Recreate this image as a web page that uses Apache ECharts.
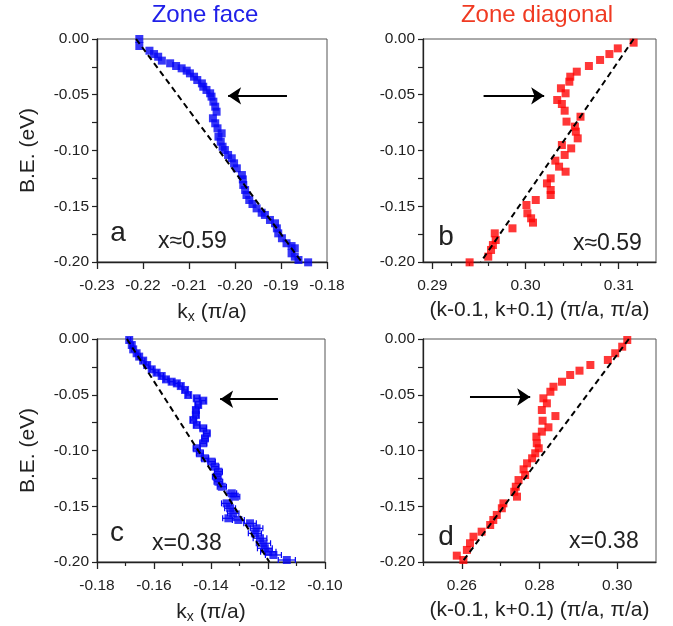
<!DOCTYPE html>
<html><head><meta charset="utf-8">
<script src="https://cdn.jsdelivr.net/npm/echarts@6/dist/echarts.min.js"></script>
<style>html,body{margin:0;padding:0;background:#fff}#c{width:673px;height:626px}</style>
</head><body><div id="c"></div>
<script>
// ---------- data ----------
const aX = [-0.2208,-0.2208,-0.2186,-0.2176,-0.2167,-0.2159,-0.2141,-0.2128,-0.2116,-0.2105,-0.2098,-0.2089,-0.2082,-0.2072,-0.2069,-0.2062,-0.2054,-0.2051,-0.2047,-0.2043,-0.2040,-0.2048,-0.2043,-0.2038,-0.2029,-0.2036,-0.2031,-0.2027,-0.2022,-0.2015,-0.2007,-0.2002,-0.1996,-0.1985,-0.1983,-0.1982,-0.1978,-0.1975,-0.1969,-0.1962,-0.1953,-0.1942,-0.1935,-0.1924,-0.1913,-0.1909,-0.1906,-0.1898,-0.1888,-0.1877,-0.1870,-0.1877,-0.1870,-0.1862,-0.1841];
const aY = [0.0000,-0.0063,-0.0105,-0.0135,-0.0159,-0.0194,-0.0218,-0.0242,-0.0263,-0.0284,-0.0308,-0.0338,-0.0368,-0.0398,-0.0428,-0.0457,-0.0487,-0.0517,-0.0562,-0.0607,-0.0652,-0.0711,-0.0756,-0.0801,-0.0846,-0.0876,-0.0921,-0.0966,-0.0996,-0.1040,-0.1070,-0.1115,-0.1160,-0.1220,-0.1259,-0.1309,-0.1354,-0.1399,-0.1444,-0.1480,-0.1519,-0.1558,-0.1578,-0.1623,-0.1653,-0.1698,-0.1743,-0.1787,-0.1832,-0.1857,-0.1877,-0.1922,-0.1952,-0.1982,-0.2003];

const bX = [0.3116,0.3099,0.3090,0.3080,0.3068,0.3055,0.3048,0.3047,0.3038,0.3043,0.3034,0.3039,0.3042,0.3059,0.3044,0.3053,0.3054,0.3056,0.3049,0.3039,0.3042,0.3032,0.3036,0.3043,0.3027,0.3023,0.3027,0.3027,0.3011,0.3001,0.3002,0.3006,0.3008,0.2986,0.2967,0.2968,0.2965,0.2963,0.2960,0.2940];
const bY = [-0.0033,-0.0084,-0.0135,-0.0188,-0.0242,-0.0293,-0.0338,-0.0383,-0.0442,-0.0487,-0.0547,-0.0583,-0.0643,-0.0697,-0.0741,-0.0786,-0.0831,-0.0891,-0.0981,-0.0951,-0.1040,-0.1091,-0.1145,-0.1190,-0.1250,-0.1295,-0.1354,-0.1399,-0.1444,-0.1489,-0.1563,-0.1608,-0.1647,-0.1698,-0.1743,-0.1803,-0.1848,-0.1892,-0.1952,-0.2003];

const cX = [-0.1687,-0.1678,-0.1673,-0.1661,-0.1652,-0.1638,-0.1624,-0.1608,-0.1591,-0.1573,-0.1558,-0.1538,-0.1520,-0.1506,-0.1491,-0.1480,-0.1450,-0.1427,-0.1445,-0.1453,-0.1453,-0.1462,-0.1450,-0.1427,-0.1415,-0.1421,-0.1427,-0.1450,-0.1439,-0.1421,-0.1398,-0.1386,-0.1374,-0.1380,-0.1374,-0.1362,-0.1327,-0.1316,-0.1345,-0.1333,-0.1322,-0.1339,-0.1304,-0.1263,-0.1240,-0.1246,-0.1228,-0.1216,-0.1211,-0.1199,-0.1181,-0.1134];
const cY = [-0.0009,-0.0054,-0.0093,-0.0128,-0.0158,-0.0194,-0.0233,-0.0272,-0.0302,-0.0332,-0.0362,-0.0383,-0.0398,-0.0422,-0.0457,-0.0502,-0.0532,-0.0553,-0.0592,-0.0637,-0.0682,-0.0726,-0.0771,-0.0801,-0.0846,-0.0891,-0.0935,-0.0980,-0.1025,-0.1070,-0.1100,-0.1145,-0.1190,-0.1235,-0.1280,-0.1325,-0.1384,-0.1414,-0.1474,-0.1518,-0.1563,-0.1608,-0.1623,-0.1653,-0.1698,-0.1743,-0.1787,-0.1832,-0.1877,-0.1908,-0.1937,-0.1982];
const cErr = [0.0005,0.0005,0.0005,0.0005,0.0005,0.0006,0.0006,0.0006,0.0006,0.0006,0.0007,0.0007,0.0007,0.0007,0.0008,0.0008,0.0009,0.0009,0.0009,0.0010,0.0010,0.0010,0.0010,0.0011,0.0011,0.0011,0.0012,0.0012,0.0012,0.0013,0.0013,0.0014,0.0014,0.0015,0.0015,0.0016,0.0017,0.0017,0.0018,0.0019,0.0020,0.0020,0.0021,0.0022,0.0022,0.0023,0.0024,0.0025,0.0026,0.0027,0.0028,0.0030];

const dX = [0.3026,0.3013,0.2995,0.2976,0.2931,0.2903,0.2879,0.2858,0.2836,0.2828,0.2810,0.2819,0.2806,0.2841,0.2808,0.2823,0.2806,0.2792,0.2793,0.2798,0.2789,0.2781,0.2768,0.2759,0.2763,0.2746,0.2739,0.2735,0.2742,0.2707,0.2703,0.2690,0.2681,0.2673,0.2651,0.2630,0.2621,0.2613,0.2587,0.2604];
const dY = [-0.0009,-0.0069,-0.0128,-0.0188,-0.0233,-0.0284,-0.0323,-0.0383,-0.0428,-0.0473,-0.0532,-0.0577,-0.0637,-0.0691,-0.0733,-0.0792,-0.0831,-0.0876,-0.0935,-0.0980,-0.1025,-0.1070,-0.1115,-0.1169,-0.1220,-0.1265,-0.1325,-0.1370,-0.1414,-0.1474,-0.1518,-0.1578,-0.1623,-0.1668,-0.1728,-0.1773,-0.1832,-0.1892,-0.1943,-0.1982];

// dashed guide lines (x at B.E.=0 and B.E.=-0.20)
const aLineX = [-0.2215, -0.1855]; const aLineY = [0, -0.20];
const bLineX = [0.3116, 0.2952];  const bLineY = [0, -0.20];
const cLineX = [-0.1695, -0.1195]; const cLineY = [0, -0.20];
const dLineX = [0.3030, 0.2601];  const dLineY = [0, -0.20];

// arrows (start x, end x, y)
const aArrow = [-0.1887, -0.2015, -0.051];
const bArrow = [0.2955, 0.3020, -0.051];
const cArrow = [-0.1165, -0.1368, -0.054];
const dArrow = [0.2621, 0.2776, -0.052];

// ticks
const yLabels = [0, -0.05, -0.10, -0.15, -0.20];
const yTicks = [0, -0.025, -0.05, -0.075, -0.10, -0.125, -0.15, -0.175, -0.20];
const aXLabels = [-0.23, -0.22, -0.21, -0.20, -0.19, -0.18];
const aXMinor = [];
const bXLabels = [0.29, 0.30, 0.31];
const bXMinor = [0.292, 0.294, 0.296, 0.298, 0.302, 0.304, 0.306, 0.308, 0.312];
const cXLabels = [-0.18, -0.16, -0.14, -0.12, -0.10];
const cXMinor = [-0.17, -0.15, -0.13, -0.11];
const dXLabels = [0.26, 0.28, 0.30];
const dXMinor = [0.25, 0.27, 0.29];

// ---------- chart ----------
const FONT = '"Liberation Sans", Arial, sans-serif';
const BLUE = '#0505f5', RED = '#ff0505', INK = '#222';
const chart = echarts.init(document.getElementById('c'), null, {renderer: 'canvas'});

const panels = [
  {left: 97,  top: 39,  width: 230, xmin: -0.23, xmax: -0.18, labels: aXLabels, minor: aXMinor, X: aX, Y: aY, color: BLUE, lx: aLineX, ly: aLineY, arrow: aArrow, xname: 'k', yname: true},
  {left: 423, top: 39,  width: 233, xmin: 0.289, xmax: 0.314, labels: bXLabels, minor: bXMinor, X: bX, Y: bY, color: RED, lx: bLineX, ly: bLineY, arrow: bArrow, xname: 'diag', yname: false},
  {left: 97,  top: 339, width: 228, xmin: -0.18, xmax: -0.10, labels: cXLabels, minor: cXMinor, X: cX, Y: cY, color: BLUE, lx: cLineX, ly: cLineY, arrow: cArrow, xname: 'k', yname: true, err: cErr},
  {left: 423, top: 339, width: 233, xmin: 0.25, xmax: 0.31, labels: dXLabels, minor: dXMinor, X: dX, Y: dY, color: RED, lx: dLineX, ly: dLineY, arrow: dArrow, xname: 'diag', yname: false}
];

const grid = [], xAxis = [], yAxis = [], series = [];
const nameRich = {
  n: {fontSize: 21, fontFamily: FONT, color: INK},
  s: {fontSize: 14, fontFamily: FONT, color: INK, padding: [10, 0, 0, 0]}
};
panels.forEach((p, i) => {
  grid.push({left: p.left, top: p.top, width: p.width, height: 223, show: true, borderColor: '#555', borderWidth: 1});
  xAxis.push({
    gridIndex: i, type: 'value', min: p.xmin, max: p.xmax, position: 'bottom',
    axisLine: {show: true, onZero: false, lineStyle: {color: INK, width: 1.3}},
    axisTick: {show: true, length: 7, customValues: p.labels, lineStyle: {color: INK, width: 1.3}},
    axisLabel: {customValues: p.labels, formatter: v => v.toFixed(2), fontSize: 15.5, color: INK, fontFamily: FONT, margin: 16},
    splitLine: {show: false},
    name: p.xname === 'k' ? '{n|k}{s|x}{n| (π/a)}' : '(k-0.1, k+0.1) (π/a, π/a)',
    nameLocation: 'middle', nameGap: 38,
    nameTextStyle: {fontSize: 21, fontFamily: FONT, color: INK, rich: nameRich}
  });
  xAxis.push({
    gridIndex: i, type: 'value', min: p.xmin, max: p.xmax, position: 'bottom',
    axisLine: {show: false, onZero: false},
    axisTick: {show: p.minor.length > 0, length: 4, customValues: p.minor, lineStyle: {color: INK, width: 1.2}},
    axisLabel: {show: false}, splitLine: {show: false}
  });
  yAxis.push({
    gridIndex: i, type: 'value', min: -0.20, max: 0,
    axisLine: {show: true, onZero: false, lineStyle: {color: INK, width: 1.3}},
    axisTick: {show: true, length: 5, customValues: yTicks, lineStyle: {color: INK, width: 1.2}},
    axisLabel: {customValues: yLabels, formatter: v => v.toFixed(2), fontSize: 15.5, color: INK, fontFamily: FONT, margin: 8},
    splitLine: {show: false},
    name: p.yname ? 'B.E. (eV)' : '', nameLocation: 'middle', nameGap: 58,
    nameTextStyle: {fontSize: 21, fontFamily: FONT, color: INK}
  });
  const xi = i * 2;
  if (p.err) {
    series.push({
      type: 'custom', xAxisIndex: xi, yAxisIndex: i, clip: false, z: 2,
      data: p.X.map((x, k) => [x, p.Y[k], p.err[k]]),
      renderItem: (params, api) => {
        const x = api.value(0), y = api.value(1), e = api.value(2);
        const l = api.coord([x - e, y]), r = api.coord([x + e, y]);
        const st = {stroke: p.color, lineWidth: 1.2};
        return {type: 'group', children: [
          {type: 'line', shape: {x1: l[0], y1: l[1], x2: r[0], y2: r[1]}, style: st},
          {type: 'line', shape: {x1: l[0], y1: l[1] - 3, x2: l[0], y2: l[1] + 3}, style: st},
          {type: 'line', shape: {x1: r[0], y1: r[1] - 3, x2: r[0], y2: r[1] + 3}, style: st}
        ]};
      }
    });
  }
  series.push({
    type: 'scatter', xAxisIndex: xi, yAxisIndex: i, symbol: 'rect', symbolSize: 8, clip: false, z: 3,
    itemStyle: {color: p.color}, data: p.X.map((x, k) => [x, p.Y[k]])
  });
  series.push({
    type: 'line', xAxisIndex: xi, yAxisIndex: i, symbol: 'none', z: 4, silent: true,
    lineStyle: {color: '#000', width: 2, type: [6, 4]},
    data: p.lx.map((x, k) => [x, p.ly[k]])
  });
  series.push({
    type: 'lines', coordinateSystem: 'cartesian2d', xAxisIndex: xi, yAxisIndex: i, z: 5, silent: true,
    symbol: ['none', 'arrow'], symbolSize: [10, 13],
    lineStyle: {color: '#000', width: 2, opacity: 1},
    data: [{coords: [[p.arrow[0], p.arrow[2]], [p.arrow[1], p.arrow[2]]]}]
  });
});

const txt = (text, x, y, size, color, align) => ({
  type: 'text', x: x, y: y, z: 100,
  style: {text: text, fontSize: size, fontFamily: FONT, fill: color || INK, align: align || 'left', verticalAlign: 'middle'}
});

chart.setOption({
  animation: false,
  backgroundColor: '#fff',
  grid, xAxis, yAxis, series,
  graphic: [
    txt('Zone face', 205, 15, 24, '#2020e8', 'center'),
    txt('Zone diagonal', 537, 15, 24, '#f03a22', 'center'),
    txt('a', 118, 233, 28, INK, 'center'),
    txt('x≈0.59', 158, 242, 23),
    txt('b', 446, 237, 28, INK, 'center'),
    txt('x≈0.59', 573, 244, 23),
    txt('c', 117, 533, 28, INK, 'center'),
    txt('x=0.38', 152, 544, 23),
    txt('d', 446, 537, 28, INK, 'center'),
    txt('x=0.38', 569, 542, 23)
  ]
});
</script>
</body></html>
